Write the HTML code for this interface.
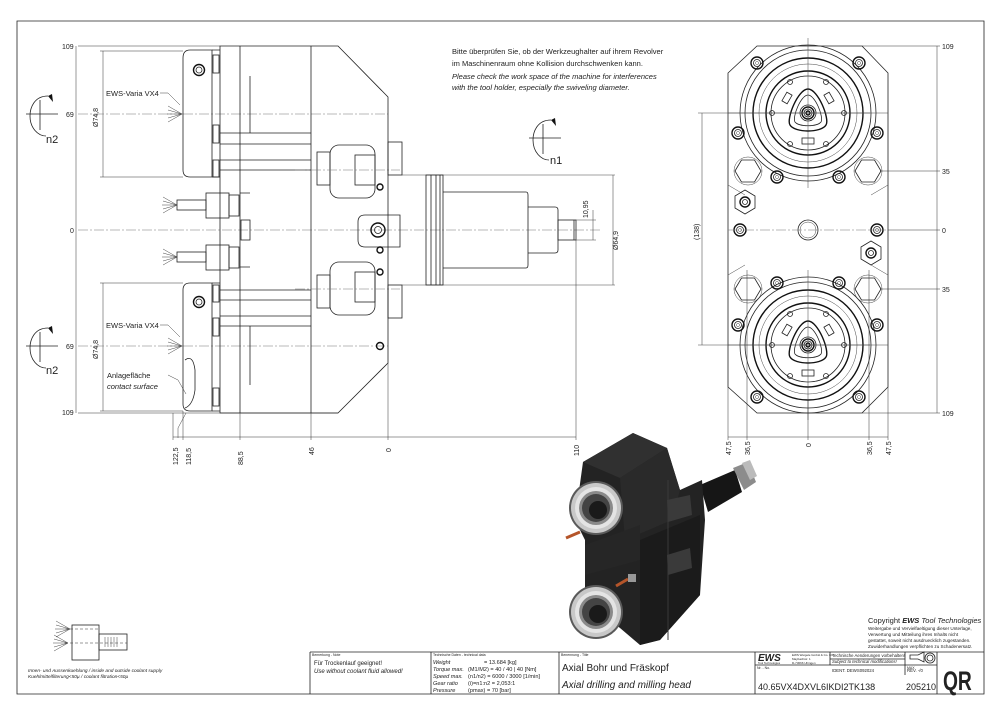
<!DOCTYPE html>
<html><head><meta charset="utf-8"><style>
html,body{margin:0;padding:0;background:#fff}
svg{display:block}
text{font-family:"Liberation Sans",sans-serif;fill:#222}
.l{fill:none;stroke:#222;stroke-width:0.8}
.t{fill:none;stroke:#111;stroke-width:1.4}
.th{fill:none;stroke:#444;stroke-width:0.5}
.c{fill:none;stroke:#777;stroke-width:0.6;stroke-dasharray:10 2 2 2}
.d{fill:none;stroke:#333;stroke-width:0.5}
</style></head><body>
<svg width="1000" height="715" viewBox="0 0 1000 715" xmlns="http://www.w3.org/2000/svg">
<defs>
<g id="bolt"><circle r="6" class="t"/><circle r="3.5" class="l"/><circle r="1.5" class="th"/></g>
<g id="hex"><polygon points="-13,0 -6.5,-11 6.5,-11 13,0 6.5,11 -6.5,11" class="l"/><circle r="14" class="th"/></g>
<g id="head">
<circle r="68" class="l"/><circle r="63" class="l"/><circle r="55" class="t"/><circle r="49" class="th"/><circle r="42" class="t"/><circle r="37" class="l"/>
<path d="M0,-24 C10,-24 22,6 18,12 C13,20 -13,20 -18,12 C-22,6 -10,-24 0,-24Z" class="t"/>
<path d="M0,-18 C7,-18 16,4 13,9 C9,14 -9,14 -13,9 C-16,4 -7,-18 0,-18Z" class="l"/>
<circle r="8" class="l"/><circle r="6" class="t"/><circle r="4" class="l"/><circle r="2" class="t"/>
<circle cx="-36" cy="0" r="2.5" class="l"/><circle cx="36" cy="0" r="2.5" class="l"/>
<circle cx="-18" cy="-31" r="2.5" class="l"/><circle cx="18" cy="-31" r="2.5" class="l"/>
<circle cx="-18" cy="31" r="2.5" class="l"/><circle cx="18" cy="31" r="2.5" class="l"/>
<rect x="-6" y="25" width="12" height="6" class="l"/>
<rect x="-24" y="-20" width="6" height="10" class="l" transform="rotate(30 -21 -15)"/>
<rect x="18" y="-20" width="6" height="10" class="l" transform="rotate(-30 21 -15)"/>
<line x1="-80" y1="0" x2="80" y2="0" class="th"/><line x1="0" y1="-75" x2="0" y2="75" class="th"/>
</g>
<g id="rot"><path d="M8,-18 C-6,-18 -10,-6 -10,2 C-10,14 -2,22 6,22" class="l"/><path d="M8,-18 l5,6 l-1,-8z" fill="#111"/><line x1="-14" y1="0" x2="18" y2="0" class="l"/><line x1="0" y1="-14" x2="0" y2="16" class="l"/></g>
<g id="spray"><path d="M0,0 l-14,-8 M0,0 l-14,-4 M0,0 l-15,0 M0,0 l-14,4 M0,0 l-14,8" class="th"/></g>
<g id="iso">
<circle r="27" fill="#5a5a5a"/><circle r="25" fill="#c8c8c8"/><circle r="21" fill="#e4e4e4"/><circle r="17" fill="#8a8a8a"/><circle r="14" fill="#444"/><circle cx="2" cy="2" r="9" fill="#1a1a1a"/>
</g>
</defs>

<path d="M17,21 H984 V694 H17 Z" class="l" stroke-width="1"/>

<line x1="76" y1="46" x2="76" y2="413" class="d"/>
<g font-size="7">
<text x="62" y="49">109</text><text x="66" y="117">69</text><text x="70" y="233">0</text><text x="66" y="349">69</text><text x="62" y="415">109</text>
</g>
<line x1="78" y1="46" x2="220" y2="46" class="d"/><line x1="78" y1="413" x2="338" y2="413" class="d"/>
<line x1="103" y1="51" x2="103" y2="177" class="d"/><line x1="103" y1="283" x2="103" y2="411" class="d"/>
<line x1="100" y1="51" x2="183" y2="51" class="d"/><line x1="100" y1="177" x2="183" y2="177" class="d"/>
<line x1="100" y1="283" x2="183" y2="283" class="d"/><line x1="100" y1="411" x2="183" y2="411" class="d"/>
<text font-size="7" transform="translate(98,127) rotate(-90)">Ø74,8</text>
<text font-size="7" transform="translate(98,359) rotate(-90)">Ø74,8</text>
<line x1="78" y1="114" x2="183" y2="114" class="c"/><line x1="78" y1="346" x2="183" y2="346" class="c"/>
<line x1="78" y1="230" x2="600" y2="230" class="c"/>
<line x1="183" y1="114" x2="388" y2="114" class="c"/><line x1="183" y1="346" x2="388" y2="346" class="c"/>
<text x="106" y="96" font-size="7.5">EWS-Varia VX4</text>
<path d="M160,93 h8 l12,12" class="th"/><use href="#spray" x="182" y="114"/>
<text x="106" y="328" font-size="7.5">EWS-Varia VX4</text>
<path d="M160,325 h8 l12,12" class="th"/><use href="#spray" x="182" y="346"/>
<text x="107" y="378" font-size="7.5">Anlagefläche</text>
<text x="107" y="389" font-size="7.5" font-style="italic">contact surface</text>
<path d="M168,375 l10,5 l8,14 M186,413 l-8,15 v10" class="th"/>
<use href="#rot" x="40" y="114"/><text x="46" y="143" font-size="11">n2</text>
<use href="#rot" x="40" y="346"/><text x="46" y="374" font-size="11">n2</text>
<use href="#rot" x="543" y="138"/><text x="550" y="164" font-size="11">n1</text>

<path d="M220,46 H338 L388,97 V363 L338,413 H220 Z" class="l"/>
<line x1="240" y1="46" x2="240" y2="413" class="l"/>
<line x1="311" y1="46" x2="311" y2="413" class="l"/>
<path d="M183,58 Q183,50 190,50 H212 V177 H190 Q183,177 183,170Z" class="l"/>
<path d="M183,290 Q183,283 190,283 H212 V411 H190 Q183,411 183,404Z" class="l"/>
<path d="M212,50 h8 M212,177 h8 M212,283 h8 M212,411 h8" class="l"/>
<rect x="213" y="55" width="6" height="18" class="l"/><rect x="213" y="125" width="6" height="18" class="l"/><rect x="213" y="160" width="6" height="17" class="l"/>
<rect x="213" y="285" width="6" height="17" class="l"/><rect x="213" y="318" width="6" height="18" class="l"/><rect x="213" y="388" width="6" height="18" class="l"/>
<circle cx="199" cy="70" r="5.5" class="t"/><circle cx="199" cy="70" r="3" class="l"/>
<circle cx="199" cy="302" r="5.5" class="t"/><circle cx="199" cy="302" r="3" class="l"/>
<path d="M185,360 q8,-6 10,10 v20 q-2,15 -10,18" class="l"/>
<line x1="250" y1="76" x2="250" y2="133" class="l"/><line x1="250" y1="326" x2="250" y2="385" class="l"/>
<path d="M220,133 H311 M220,144 H311 M220,160 H311 M220,170 H311 M240,193 H250 M240,267 H250" class="l"/>
<path d="M220,290 H311 M220,300 H311 M220,316 H311 M220,326 H311" class="l"/>
<rect x="241" y="220" width="9" height="20" class="l"/>
<rect x="330" y="145" width="45" height="53" rx="9" class="l"/><rect x="355" y="155" width="20" height="30" class="l"/><rect x="317" y="152" width="13" height="33" class="l"/>
<rect x="330" y="262" width="45" height="53" rx="9" class="l"/><rect x="355" y="272" width="20" height="30" class="l"/><rect x="317" y="275" width="13" height="33" class="l"/>
<line x1="295" y1="170" x2="400" y2="170" class="c"/><line x1="295" y1="289" x2="400" y2="289" class="c"/>
<rect x="388" y="142" width="14" height="33" class="l"/><rect x="388" y="285" width="14" height="33" class="l"/>
<path d="M365,215 H400 V247 H365 Q358,247 358,240 V222 Q358,215 365,215Z" class="l"/>
<circle cx="378" cy="230" r="7" class="t"/><circle cx="378" cy="230" r="3.5" class="l"/>
<circle cx="380" cy="187" r="3" class="t"/><circle cx="380" cy="272" r="3" class="t"/><circle cx="380" cy="250" r="3" class="t"/><circle cx="380" cy="346" r="3.5" class="t"/>
<g><use href="#spray" x="177" y="205"/><rect x="177" y="200" width="29" height="10" class="l"/><rect x="206" y="193" width="23" height="25" class="l"/><rect x="229" y="195" width="10" height="21" class="l"/></g>
<g><use href="#spray" x="177" y="257"/><rect x="177" y="252" width="29" height="10" class="l"/><rect x="206" y="245" width="23" height="25" class="l"/><rect x="229" y="247" width="10" height="21" class="l"/></g>
<path d="M402,175 H615 M402,285 H615" class="th"/>
<rect x="426" y="175" width="17" height="110" class="l"/><path d="M431,175 V285 M436,175 V285 M440,175 V285" class="l"/>
<path d="M443,192 H526 q2,0 2,3 V265 q0,3 -2,3 H443" class="l"/>
<path d="M528,207 H555 q3,0 3,3 V250 q0,3 -3,3 H528" class="l"/>
<rect x="558" y="220" width="18" height="20" class="l"/><line x1="574" y1="220" x2="574" y2="240" class="l"/>
<line x1="613" y1="175" x2="613" y2="285" class="d"/><text font-size="7" transform="translate(618,250) rotate(-90)">Ø64,9</text>
<line x1="593" y1="210" x2="593" y2="240" class="d"/><path d="M576,220 H596 M576,240 H596" class="th"/><text font-size="7" transform="translate(588,218) rotate(-90)">10,95</text>
<line x1="173" y1="437" x2="576" y2="437" class="d"/>
<path d="M173,413 V440 M183,411 V440 M240,413 V440 M311,413 V440 M388,363 V440 M576,240 V440" class="d"/>
<g font-size="7">
<text transform="translate(178,465) rotate(-90)">122,5</text><text transform="translate(191,465) rotate(-90)">118,5</text>
<text transform="translate(243,465) rotate(-90)">88,5</text><text transform="translate(314,455) rotate(-90)">46</text>
<text transform="translate(391,452) rotate(-90)">0</text><text transform="translate(579,456) rotate(-90)">110</text>
</g>

<text x="452" y="54" font-size="7.5">Bitte überprüfen Sie, ob der Werkzeughalter auf ihrem Revolver</text>
<text x="452" y="66" font-size="7.5">im Maschinenraum ohne Kollision durchschwenken kann.</text>
<text x="452" y="79" font-size="7.5" font-style="italic">Please check the work space of the machine for interferences</text>
<text x="452" y="90" font-size="7.5" font-style="italic">with the tool holder, especially the swiveling diameter.</text>

<path d="M757,46 H862 L888,73 V387 L862,413 H757 L728,387 V73 Z" class="l"/>
<use href="#head" x="808" y="113"/>
<use href="#head" x="808" y="345"/>
<use href="#bolt" x="757" y="63"/><use href="#bolt" x="859" y="63"/><use href="#bolt" x="738" y="133"/><use href="#bolt" x="877" y="133"/>
<use href="#bolt" x="777" y="177"/><use href="#bolt" x="839" y="177"/>
<use href="#bolt" x="777" y="283"/><use href="#bolt" x="839" y="283"/><use href="#bolt" x="738" y="325"/><use href="#bolt" x="877" y="325"/>
<use href="#bolt" x="757" y="397"/><use href="#bolt" x="859" y="397"/>
<use href="#bolt" x="740" y="230"/><use href="#bolt" x="877" y="230"/>
<use href="#hex" x="748" y="171"/><use href="#hex" x="868" y="171"/><use href="#hex" x="748" y="289"/><use href="#hex" x="868" y="289"/>
<g transform="translate(745,202)"><polygon points="0,-12 10,-6 10,6 0,12 -10,6 -10,-6" class="l"/><circle r="5" class="t"/><circle r="2.5" class="l"/></g>
<g transform="translate(871,253)"><polygon points="0,-12 10,-6 10,6 0,12 -10,6 -10,-6" class="l"/><circle r="5" class="t"/><circle r="2.5" class="l"/></g>
<circle cx="808" cy="230" r="10" class="l"/><circle cx="808" cy="230" r="8" class="th"/>
<line x1="728" y1="230" x2="888" y2="230" class="c"/>
<path d="M728,185 L745,195 M888,185 L871,195 M728,275 L745,265 M888,275 L871,265" class="th"/>
<line x1="937" y1="46" x2="937" y2="413" class="d"/>
<path d="M862,46 H940 M862,413 H940 M880,171 H940 M880,289 H940 M888,230 H940" class="d"/>
<g font-size="7"><text x="942" y="49">109</text><text x="942" y="174">35</text><text x="942" y="233">0</text><text x="942" y="292">35</text><text x="942" y="416">109</text></g>
<line x1="702" y1="113" x2="702" y2="345" class="d"/><path d="M698,113 H870 M698,345 H870" class="th"/>
<text font-size="7" transform="translate(699,240) rotate(-90)">(138)</text>
<line x1="728" y1="437" x2="888" y2="437" class="d"/>
<path d="M728,387 V440 M747,270 V440 M808,400 V440 M869,270 V440 M888,387 V440" class="d"/>
<g font-size="7"><text transform="translate(731,455) rotate(-90)">47,5</text><text transform="translate(750,455) rotate(-90)">36,5</text><text transform="translate(811,447) rotate(-90)">0</text><text transform="translate(872,455) rotate(-90)">36,5</text><text transform="translate(891,455) rotate(-90)">47,5</text></g>

<g>
<polygon points="700,485 735,470 742,492 708,512" fill="#161616"/>
<polygon points="733,468 748,462 756,482 744,490" fill="#8c8c8c"/>
<polygon points="742,463 750,460 757,476 750,480" fill="#bbb"/>
<polygon points="583,462 633,433 667,448 680,490 702,480 705,520 700,595 660,640 640,645 620,628 585,600 585,540 575,520" fill="#232323"/>
<polygon points="583,462 633,433 667,448 620,478" fill="#303030"/>
<polygon points="620,478 667,448 680,490 672,520 625,540" fill="#2a2a2a"/>
<polygon points="640,540 700,515 700,595 660,640 640,645" fill="#1b1b1b"/>
<polygon points="585,545 640,525 640,560 585,575" fill="#262626"/>
<line x1="668" y1="480" x2="668" y2="640" stroke="#3a3a3a" stroke-width="1"/>
<polygon points="667,500 690,495 692,515 668,522" fill="#3a3a3a"/>
<polygon points="667,555 690,548 692,568 668,575" fill="#3a3a3a"/>
<use href="#iso" x="596" y="508"/>
<use href="#iso" x="596" y="612"/>
<line x1="566" y1="538" x2="580" y2="532" stroke="#b5552a" stroke-width="3"/>
<line x1="616" y1="586" x2="628" y2="579" stroke="#b5552a" stroke-width="3"/>
<rect x="628" y="574" width="8" height="8" fill="#999"/>
</g>

<g>
<rect x="72" y="625" width="27" height="35" class="l"/><rect x="99" y="634" width="28" height="16" class="l"/>
<path d="M65,629 H98 M65,643 H127" class="d" stroke-dasharray="3 2"/>
<path d="M105,637 v10 M108,637 v10 M111,637 v10 M114,637 v10 M117,637 v10" class="th"/>
<use href="#spray" x="70" y="629"/><use href="#spray" x="68" y="643"/>
</g>
<text x="28" y="672" font-size="4.8" font-style="italic">Innen- und Aussenkuehlung / inside and outside coolant supply</text>
<text x="28" y="678" font-size="4.8" font-style="italic">Kuehlmittelfilterung&lt;50µ / coolant filtration&lt;50µ</text>

<text x="868" y="623" font-size="7.5">Copyright <tspan font-weight="bold" font-style="italic">EWS</tspan> <tspan font-style="italic">Tool Technologies</tspan></text>
<g font-size="4.6"><text x="868" y="630">Weitergabe und Vervielfaeltigung dieser Unterlage,</text><text x="868" y="636">Verwertung und Mitteilung ihres Inhalts nicht</text><text x="868" y="642">gestattet, soweit nicht ausdruecklich zugestanden.</text><text x="868" y="648">Zuwiderhandlungen verpflichten zu Schadenersatz.</text></g>

<path d="M310,652 H984 M310,652 V694 M431,652 V694 M559,652 V694 M755,652 V694 M830,652 V665 M905,652 V675 M937,652 V694 M755,665 H937 M830,659 H905" class="l"/>
<g font-size="3.5"><text x="312" y="656">Bemerkung - Note</text><text x="433" y="656">Technische Daten - technical data</text><text x="561" y="656">Benennung - Title</text><text x="757" y="669">Nr. - No.</text><text x="907" y="669">MAX</text></g>
<text x="314" y="665" font-size="6">Für Trockenlauf geeignet!</text>
<text x="314" y="673" font-size="6" font-style="italic">Use without coolant fluid allowed!</text>
<g font-size="5.6">
<text x="433" y="664" font-style="italic">Weight</text><text x="484" y="664">=  13.684 [kg]</text>
<text x="433" y="671" font-style="italic">Torque max.</text><text x="468" y="671">(M1/M2) =  40 / 40 | 40 [Nm]</text>
<text x="433" y="678" font-style="italic">Speed max.</text><text x="468" y="678">(n1/n2) =  6000 / 3000 [1/min]</text>
<text x="433" y="685" font-style="italic">Gear ratio</text><text x="468" y="685">(i)=n1:n2 =  2,053:1</text>
<text x="433" y="692" font-style="italic">Pressure</text><text x="468" y="692">(pmax) =  70 [bar]</text>
</g>
<text x="562" y="671" font-size="10">Axial Bohr und Fräskopf</text>
<text x="562" y="688" font-size="10" font-style="italic">Axial drilling and milling head</text>
<text x="758" y="661" font-size="10" font-weight="bold" font-style="italic">EWS</text>
<text x="758" y="664" font-size="2.8">Tool Technologies</text>
<g font-size="3"><text x="792" y="656">EWS Weigele GmbH &amp; Co. KG</text><text x="792" y="660">Maybachstr. 1</text><text x="792" y="664">D-73066 Uhingen</text></g>
<g font-size="4.3"><text x="832" y="657">Technische Aenderungen vorbehalten!</text><text x="832" y="663" font-style="italic">Subject to technical modifications!</text><text x="832" y="672">IDENT.  DEWS092024</text><text x="907" y="672">REV.  -/0</text></g>
<path d="M910,655 h8 l6,-3 v10 l-6,-3 h-8z" class="l"/><circle cx="930" cy="658" r="5" class="l"/><circle cx="930" cy="658" r="3" class="l"/>
<text x="758" y="690" font-size="9">40.65VX4DXVL6IKDI2TK138</text>
<text x="906" y="690" font-size="9">205210</text>
<text x="0" y="0" font-size="24" font-weight="bold" transform="translate(943,690) scale(0.8,1.1)">QR</text>
</svg>
</body></html>
